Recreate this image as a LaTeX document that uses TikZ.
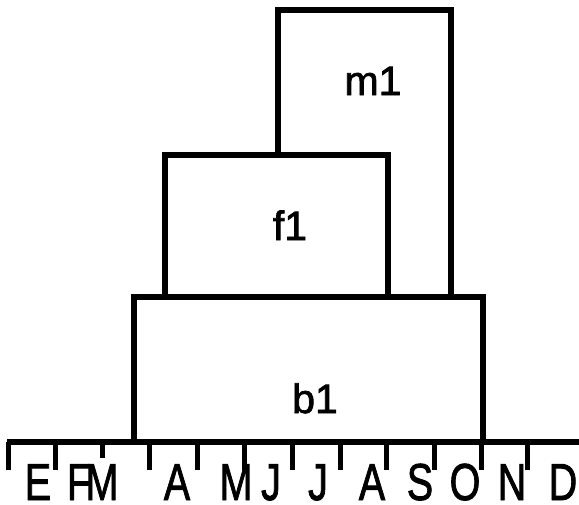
\documentclass[tikz,border=0pt]{standalone}
\usepackage{fontspec}
\usepackage{graphicx}
\setmainfont{Liberation Sans}[RawFeature={embolden=1.8}]
\begin{document}
\begin{tikzpicture}[x=1pt,y=-1pt,
  box/.style={draw,fill=white,line width=6pt,rectangle,inner sep=0pt},
  boxlabel/.style={anchor=base,inner sep=0pt,font=\fontsize{41}{41}\selectfont},
  month/.style={anchor=base,inner sep=0pt,font=\fontsize{52}{52}\selectfont},
  axisline/.style={line width=6pt},
  tick/.style={line width=5pt}]
\useasboundingbox (0,0) rectangle (579,504);

% stacked blocks
\node[box,minimum width=173pt,minimum height=287pt] (m1) at (364.5,153.5) {};
\node[box,minimum width=223pt,minimum height=142pt] (f1) at (276.5,226) {};
\node[box,minimum width=349pt,minimum height=145pt] (b1) at (308.5,369.5) {};

\node[boxlabel] (tm1) at (373,95) {m1};
\node[boxlabel] (tf1) at (290,240) {f1};
\node[boxlabel] (tb1) at (315,413) {b1};

% time axis
\coordinate (axL) at (7,442);
\coordinate (axR) at (579,442);
\draw[axisline] (axL) -- (axR);
\foreach \x/\e in {8/470,55/470,102/458,149/470,197/470,244/470,292/470,340/470,386/470,434/470,481/470,527/470}
  \draw[tick] (\x,442) -- (\x,\e);

% month initials
\foreach \x/\m/\n in {38/E/e,79/F/f,102/M/m,177/A/a,236/M/mb,271/J/j,318/J/jb,372/A/ab,420/S/s,465/O/o,512/N/n,563/D/d}
  \node[month] (l\n) at (\x,500) {\scalebox{0.76}[1]{\m}};
\end{tikzpicture}
\end{document}
